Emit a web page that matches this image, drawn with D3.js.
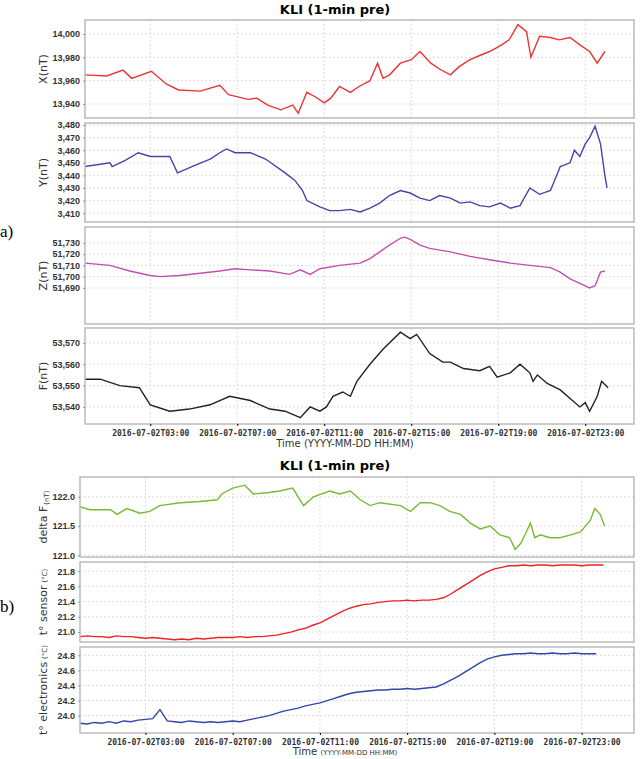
<!DOCTYPE html>
<html lang="en">
<head>
<meta charset="UTF-8">
<script src="https://d3js.org/d3.v7.min.js"></script>
<style>
  body { margin: 0; background: #fff; font-family: "DejaVu Sans", sans-serif; }
  .grid line { stroke: #ddd; stroke-dasharray: 2,2; }
  .tick text { font-size: 9px; fill: #333; }
</style>
</head>
<body>
<script>
// hours since 2016-07-02T00:00, value
const xSeries = [[0,13965],[1,13964],[1.75,13969],[2.15,13962],[3.05,13968],[3.75,13957],[4.3,13952],[5.3,13951],[6.2,13956],[6.6,13948],[7.5,13944],[7.9,13945],[8.4,13939],[9,13935],[9.55,13939],[9.8,13932],[10.2,13950],[10.6,13946],[11.0,13941],[11.3,13945],[11.7,13955],[12.2,13950],[12.6,13955],[13.1,13960],[13.45,13975],[13.7,13962],[14.0,13965],[14.5,13975],[15.0,13978],[15.4,13985],[15.9,13975],[16.3,13970],[16.8,13965],[17.2,13972],[17.7,13978],[18.2,13982],[18.6,13985],[19.1,13990],[19.5,13995],[19.9,14008],[20.3,14002],[20.5,13980],[20.9,13998],[21.4,13997],[21.8,13995],[22.3,13997],[22.8,13990],[23.2,13985],[23.55,13975],[23.9,13985]];
const ySeries = [[0,3447],[1.15,3450],[1.25,3447],[1.85,3452],[2.45,3458],[3,3455],[3.9,3455],[4.25,3442],[5.05,3448],[5.75,3453],[6.2,3458],[6.5,3461],[6.9,3458],[7.6,3458],[8.3,3453],[9.2,3442],[9.65,3436],[10,3428],[10.2,3420],[10.8,3415],[11.25,3412],[11.7,3412],[12.2,3413],[12.65,3411],[13.1,3414],[13.55,3418],[14,3424],[14.5,3428],[14.95,3426],[15.4,3422],[15.85,3420],[16.3,3424],[16.8,3422],[17.25,3418],[17.7,3419],[18.15,3416],[18.6,3415],[19.1,3418],[19.55,3414],[20,3416],[20.45,3430],[20.9,3425],[21.4,3428],[21.85,3447],[22.3,3450],[22.5,3460],[22.75,3455],[23,3465],[23.2,3470],[23.45,3479],[23.7,3465],[23.9,3440],[24,3430]];
const zSeries = [[0,51712],[1.15,51710],[2.05,51705],[3,51701],[3.45,51700],[4.35,51701],[5.3,51703],[6.2,51705],[6.9,51707],[7.6,51706],[8.5,51705],[9.4,51702],[9.9,51706],[10.35,51702],[10.8,51707],[11.7,51710],[12.65,51712],[13.1,51716],[13.55,51722],[14,51728],[14.5,51734],[14.7,51735],[14.95,51733],[15.4,51728],[15.85,51725],[16.8,51722],[17.7,51718],[18.6,51715],[19.55,51712],[20.45,51710],[21.4,51708],[21.85,51704],[22.3,51698],[22.75,51694],[23.2,51690],[23.45,51692],[23.7,51704],[23.9,51705]];
const fSeries = [[0,53553],[0.7,53553],[1.6,53550],[2.5,53549],[3,53541],[3.9,53538],[4.8,53539],[5.75,53541],[6.65,53545],[7.6,53543],[8.5,53539],[9.2,53538],[9.9,53535],[10.35,53540],[10.8,53538],[11.1,53540],[11.4,53545],[11.85,53547],[12.2,53545],[12.5,53552],[13.1,53560],[13.7,53567],[14.5,53575],[14.95,53572],[15.25,53574],[15.85,53565],[16.45,53561],[16.8,53561],[17.4,53558],[18.15,53557],[18.6,53559],[18.95,53554],[19.55,53556],[20,53560],[20.45,53556],[20.6,53552],[20.8,53555],[21.25,53551],[21.85,53548],[22.75,53540],[23,53542],[23.2,53538],[23.55,53545],[23.75,53552],[24.05,53549]];
const dfSeries = [[0,121.83],[0.45,121.78],[1.4,121.78],[1.7,121.7],[2.15,121.8],[2.75,121.72],[3.2,121.75],[3.65,121.85],[4.6,121.9],[5.5,121.92],[6.3,121.95],[6.5,122.05],[7,122.15],[7.55,122.2],[7.95,122.05],[8.6,122.07],[9.15,122.1],[9.75,122.15],[10.25,121.85],[10.7,122.0],[11.45,122.1],[11.9,122.05],[12.4,122.1],[12.85,121.95],[13.3,121.85],[13.75,121.9],[14.7,121.85],[15.15,121.75],[15.6,121.9],[16.05,121.9],[16.5,121.85],[16.95,121.75],[17.45,121.7],[17.9,121.55],[18.35,121.45],[18.8,121.5],[19.25,121.35],[19.7,121.3],[19.95,121.1],[20.2,121.2],[20.4,121.35],[20.65,121.55],[20.85,121.3],[21.1,121.35],[21.55,121.3],[22,121.3],[22.5,121.35],[22.95,121.4],[23.4,121.6],[23.6,121.8],[23.85,121.7],[24.05,121.5]];
// 20-minute samples from 00:00
const sensorVals = [20.94,20.95,20.94,20.94,20.93,20.95,20.94,20.94,20.93,20.92,
  20.93,20.92,20.91,20.90,20.91,20.90,20.92,20.91,20.92,20.93,
  20.93,20.93,20.94,20.93,20.94,20.94,20.95,20.96,20.98,
  21.00,21.03,21.05,21.09,21.12,21.17,21.22,21.27,21.31,21.34,21.36,21.37,
  21.39,21.40,21.41,21.41,21.42,21.41,21.42,21.42,21.43,21.45,
  21.50,21.56,21.62,21.68,21.74,21.79,21.83,21.85,21.87,21.87,
  21.88,21.87,21.88,21.88,21.87,21.88,21.88,21.88,21.87,21.88,21.88,21.88];
const elecVals = [23.90,23.89,23.91,23.90,23.92,23.90,23.93,23.92,23.94,23.95,
  23.96,24.08,23.93,23.92,23.91,23.93,23.92,23.91,23.92,23.91,23.92,
  23.93,23.92,23.94,23.96,23.98,24.00,24.03,24.06,24.08,24.10,
  24.13,24.15,24.17,24.20,24.23,24.26,24.29,24.31,24.32,24.33,24.34,24.34,
  24.35,24.35,24.36,24.35,24.36,24.37,24.38,24.42,24.47,24.52,24.58,24.64,24.70,24.75,24.78,
  24.80,24.81,24.82,24.82,24.83,24.82,24.82,24.83,24.82,24.82,24.83,24.82,24.82,24.82];
const timeTicks = [3, 7, 11, 15, 19, 23];
const tickLabel = h => "2016-07-02T" + String(h).padStart(2, "0") + ":00";

const svg = d3.select("body").append("svg").attr("width", 640).attr("height", 759);

svg.append("text").attr("x", 335).attr("y", 14).attr("text-anchor", "middle")
  .attr("font-size", 13).attr("font-weight", "bold").text("KLI (1-min pre)");
svg.append("text").attr("x", 335).attr("y", 470).attr("text-anchor", "middle")
  .attr("font-size", 13).attr("font-weight", "bold").text("KLI (1-min pre)");
svg.append("text").attr("x", 0).attr("y", 237).attr("font-family", "Liberation Serif")
  .attr("font-size", 17).text("a)");
svg.append("text").attr("x", 0).attr("y", 612).attr("font-family", "Liberation Serif")
  .attr("font-size", 17).text("b)");

function panel(o) {
  const x = d3.scaleLinear().domain([0, o.xMax]).range([o.left, 634]);
  const y = d3.scaleLinear().domain(o.yDom).range([o.bottom, o.top]);
  const g = svg.append("g");
  g.append("g").attr("class", "grid").selectAll("line").data(timeTicks).join("line")
    .attr("x1", d => x(d)).attr("x2", d => x(d)).attr("y1", o.top).attr("y2", o.bottom);
  g.append("g").attr("class", "grid").selectAll("line").data(o.ticks).join("line")
    .attr("x1", o.left).attr("x2", 634).attr("y1", d => y(d)).attr("y2", d => y(d));
  const clip = "c" + o.top;
  g.append("clipPath").attr("id", clip).append("rect")
    .attr("x", o.left).attr("y", o.top).attr("width", 634 - o.left).attr("height", o.bottom - o.top);
  g.append("path").datum(o.data).attr("clip-path", `url(#${clip})`)
    .attr("fill", "none").attr("stroke", o.color).attr("stroke-width", 1.4)
    .attr("d", d3.line().x(d => x(d[0])).y(d => y(d[1])));
  g.append("rect").attr("x", o.left).attr("y", o.top).attr("width", 634 - o.left)
    .attr("height", o.bottom - o.top).attr("fill", "none").attr("stroke", "#bbb").attr("stroke-width", 1.5);
  const ax = g.append("g").attr("transform", `translate(${o.left},0)`)
    .call(d3.axisLeft(y).tickValues(o.ticks).tickFormat(o.fmt).tickSize(2));
  ax.select(".domain").remove();
  ax.selectAll("line").attr("stroke", "#999");
  ax.selectAll("text").attr("font-weight", "bold").attr("fill", "#444");
  const lab = g.append("text").attr("transform", `translate(${o.labelX},${(o.top + o.bottom) / 2}) rotate(-90)`)
    .attr("text-anchor", "middle").attr("font-size", 11).attr("fill", "#333");
  lab.append("tspan").text(o.label);
  if (o.unit) lab.append("tspan").attr("font-size", 7).attr("dx", o.unitDx || 3).attr("dy", o.unitDy || 0).text(o.unit);
  if (o.xAxis) {
    const xa = g.append("g").attr("transform", `translate(0,${o.bottom})`)
      .call(d3.axisBottom(x).tickValues(timeTicks).tickFormat(tickLabel).tickSize(2));
    xa.select(".domain").remove();
    xa.selectAll("text").attr("font-family", "DejaVu Sans Mono").attr("font-weight", "bold")
      .style("font-size", "8px").attr("fill", "#444").attr("dy", "0.9em");
  }
  return { x, y };
}

const comma = d3.format(",");
const topX = 25.24, botX = 25.4;
panel({ data: xSeries, color: "#ee3333", top: 20, bottom: 118, left: 85, xMax: topX, yDom: [13928, 14012],
  ticks: [13940, 13960, 13980, 14000], fmt: comma, label: "X(nT)", labelX: 47 });
panel({ data: ySeries, color: "#4444aa", top: 123, bottom: 222, left: 85, xMax: topX, yDom: [3403, 3481.6],
  ticks: [3410, 3420, 3430, 3440, 3450, 3460, 3470, 3480], fmt: comma, label: "Y(nT)", labelX: 47 });
panel({ data: zSeries, color: "#c050b0", top: 227, bottom: 324, left: 85, xMax: topX, yDom: [51658, 51744],
  ticks: [51690, 51700, 51710, 51720, 51730], fmt: comma, label: "Z(nT)", labelX: 47 });
panel({ data: fSeries, color: "#222", top: 328, bottom: 424, left: 85, xMax: topX, yDom: [53532, 53577],
  ticks: [53540, 53550, 53560, 53570], fmt: comma, label: "F(nT)", labelX: 47, xAxis: true });
svg.append("text").attr("x", 345).attr("y", 447).attr("text-anchor", "middle")
  .attr("font-size", 10).attr("fill", "#333").text("Time (YYYY-MM-DD HH:MM)");

const t20 = vals => vals.map((v, i) => [i / 3, v]);
panel({ data: dfSeries, color: "#77bb33", top: 477, bottom: 557, left: 80, xMax: botX, yDom: [120.97, 122.34],
  ticks: [121.0, 121.5, 122.0], fmt: d3.format(".1f"), label: "delta F", unit: "(nT)", unitDx: 1, unitDy: 2, labelX: 47 });
panel({ data: t20(sensorVals), color: "#ee2222", top: 562, bottom: 642, left: 80, xMax: botX, yDom: [20.87, 21.92],
  ticks: [21.0, 21.2, 21.4, 21.6, 21.8], fmt: d3.format(".1f"), label: "t° sensor", unit: "(°C)", labelX: 47 });
panel({ data: t20(elecVals), color: "#3344aa", top: 647, bottom: 733, left: 80, xMax: botX, yDom: [23.77, 24.91],
  ticks: [24.0, 24.2, 24.4, 24.6, 24.8], fmt: d3.format(".1f"), label: "t° electronics", unit: "(°C)", labelX: 47, xAxis: true });
const tt = svg.append("text").attr("x", 345).attr("y", 755).attr("text-anchor", "middle")
  .attr("font-size", 10).attr("fill", "#333");
tt.append("tspan").text("Time ");
tt.append("tspan").attr("font-size", 7).text("(YYYY-MM-DD HH:MM)");
</script>
</body>
</html>
